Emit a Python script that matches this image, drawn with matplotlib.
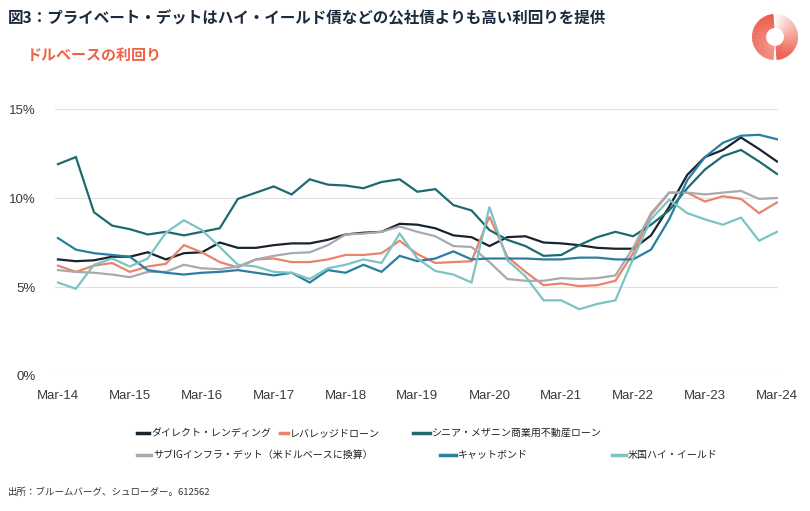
import numpy as np
import pandas as pd
import matplotlib
matplotlib.use("Agg")
import matplotlib.pyplot as plt
import matplotlib.dates as mdates
from matplotlib.lines import Line2D
from matplotlib.patches import Wedge

plt.rcParams["font.family"] = ["Noto Sans CJK JP", "DejaVu Sans"]

# Quarterly yields (%), Mar-14 .. Mar-24
dates = pd.date_range("2014-03-31", periods=41, freq="QE")

direct_lending = [6.55, 6.45, 6.5, 6.7, 6.7, 6.95, 6.55, 6.9, 6.95, 7.5,
                  7.2, 7.2, 7.35, 7.45, 7.45, 7.65, 7.95, 8.05, 8.1, 8.55,
                  8.5, 8.3, 7.9, 7.8, 7.3, 7.8, 7.85, 7.5, 7.45, 7.35,
                  7.2, 7.15, 7.15, 7.9, 9.5, 11.3, 12.3, 12.7, 13.4, 12.75,
                  12.05]
leveraged_loans = [6.2, 5.85, 6.2, 6.35, 5.85, 6.15, 6.3, 7.35, 6.95, 6.4,
                   6.1, 6.55, 6.6, 6.4, 6.4, 6.55, 6.8, 6.8, 6.9, 7.6,
                   6.85, 6.35, 6.4, 6.45, 8.95, 6.7, 5.85, 5.1, 5.2, 5.05,
                   5.1, 5.35, 6.9, 9.05, 10.3, 10.3, 9.8, 10.1, 9.95, 9.15,
                   9.75]
senior_cre = [11.9, 12.3, 9.2, 8.45, 8.25, 7.95, 8.1, 7.9, 8.1, 8.3,
              9.95, 10.3, 10.65, 10.2, 11.05, 10.75, 10.7, 10.55, 10.9, 11.05,
              10.35, 10.5, 9.6, 9.3, 8.2, 7.65, 7.3, 6.75, 6.8, 7.35,
              7.8, 8.1, 7.85, 8.5, 9.3, 10.55, 11.6, 12.35, 12.7, 12.05,
              11.35]
sub_ig_infra = [5.95, 5.85, 5.8, 5.7, 5.55, 5.85, 5.85, 6.25, 6.05, 6.0,
                6.15, 6.55, 6.75, 6.9, 6.95, 7.35, 7.95, 8.0, 8.1, 8.4,
                8.1, 7.85, 7.3, 7.25, 6.4, 5.45, 5.35, 5.35, 5.5, 5.45,
                5.5, 5.65, 7.2, 9.15, 10.3, 10.3, 10.2, 10.3, 10.4, 9.95,
                10.0]
cat_bonds = [7.75, 7.1, 6.9, 6.8, 6.7, 5.95, 5.8, 5.7, 5.8, 5.85,
             5.95, 5.8, 5.65, 5.8, 5.25, 5.95, 5.8, 6.25, 5.85, 6.75,
             6.45, 6.6, 7.0, 6.55, 6.6, 6.6, 6.6, 6.55, 6.55, 6.65,
             6.65, 6.55, 6.55, 7.1, 8.8, 11.0, 12.3, 13.1, 13.5, 13.55,
             13.3]
us_high_yield = [5.25, 4.9, 6.25, 6.6, 6.15, 6.6, 8.05, 8.75, 8.2, 7.25,
                 6.25, 6.15, 5.85, 5.8, 5.45, 6.05, 6.25, 6.55, 6.35, 8.0,
                 6.6, 5.9, 5.7, 5.25, 9.5, 6.5, 5.6, 4.25, 4.25, 3.75,
                 4.05, 4.25, 6.6, 8.8, 9.9, 9.15, 8.8, 8.5, 8.9, 7.6,
                 8.1]

series = [
    ("ダイレクト・レンディング", direct_lending, "#17242f"),
    ("レバレッジドローン", leveraged_loans, "#e8836e"),
    ("シニア・メザニン商業用不動産ローン", senior_cre, "#1e6a6e"),
    ("サブIGインフラ・デット（米ドルベースに換算）", sub_ig_infra, "#a9a9b0"),
    ("キャットボンド", cat_bonds, "#2b7ea1"),
    ("米国ハイ・イールド", us_high_yield, "#7cc3c3"),
]

fig = plt.figure(figsize=(8.1, 5.11), dpi=100)
ax = fig.add_axes([55 / 810, 1 - 376 / 511, 723 / 810, 267 / 511])

for name, vals, color in series:
    ax.plot(dates, vals, color=color, lw=1.6, solid_joinstyle="miter")

ax.set_ylim(0, 15)
ax.set_yticks([0, 5, 10, 15])
ax.set_yticklabels(["0%", "5%", "10%", "15%"])
ax.set_xlim(dates[0] - pd.Timedelta(days=15), dates[-1] + pd.Timedelta(days=5))
ax.set_xticks(dates[::4])
ax.xaxis.set_major_formatter(mdates.DateFormatter("%b-%y"))
ax.grid(axis="y", color="#e0e0e0", lw=0.8)
ax.set_axisbelow(True)
for s in ax.spines.values():
    s.set_visible(False)
ax.tick_params(length=0, labelsize=9.5, colors="#3a3a3a")
ax.tick_params(axis="y", pad=14)
ax.tick_params(axis="x", pad=10)
for lab in ax.get_xticklabels() + ax.get_yticklabels():
    lab.set_family("Liberation Sans")

# titles
fig.text(8 / 810, 1 - 18 / 511, "図3：プライベート・デットはハイ・イールド債などの公社債よりも高い利回りを提供",
         fontsize=11.2, fontweight="bold", color="#1b2a3c", va="center", ha="left")
fig.text(27 / 810, 1 - 55 / 511, "ドルベースの利回り", fontsize=10.8, fontweight="bold",
         color="#ee6248", va="center", ha="left")
fig.text(8 / 810, 1 - 492 / 511, "出所：ブルームバーグ、シュローダー。612562", fontsize=6.8,
         color="#333333", va="center", ha="left")

# legend, laid out by hand like the original
legend_pos = [(137, 433, 12), (280, 433, 8), (413, 433, 17),
              (137, 455, 14), (440, 455, 16), (612, 455, 14)]
for (name, vals, color), (x0, y0, w) in zip(series, legend_pos):
    yf = 1 - y0 / 511
    fig.add_artist(Line2D([x0 / 810, (x0 + w) / 810], [yf, yf], color=color, lw=2.5,
                          transform=fig.transFigure))
    fig.text((x0 + w + 2) / 810, yf, name, fontsize=7.2, color="#222222",
             va="center", ha="left")

# logo ring: two arcs, left one solid, right one fading toward the top
lax = fig.add_axes([(775 - 25) / 810, 1 - (37 + 25) / 511, 50 / 810, 50 / 511])
lax.set_xlim(-25, 25)
lax.set_ylim(-25, 25)
lax.set_aspect("equal")
lax.axis("off")
red = np.array([0.918, 0.271, 0.188])
white = np.ones(3)
step = 2
for a in np.arange(0, 360, step):
    if 94 <= a < 266:
        k = 1 - 0.3 * (a - 94) / 172
    elif a >= 274 or a < 86:
        t = ((a - 274) % 360) / 172
        k = 1 - 0.95 * t ** 1.3
    else:
        continue
    col = white + (red - white) * k
    lax.add_patch(Wedge((0, 0), 23, a, a + step + 0.4, width=14, facecolor=col,
                        edgecolor="none", lw=0))

fig.savefig("out.png", dpi=100)
